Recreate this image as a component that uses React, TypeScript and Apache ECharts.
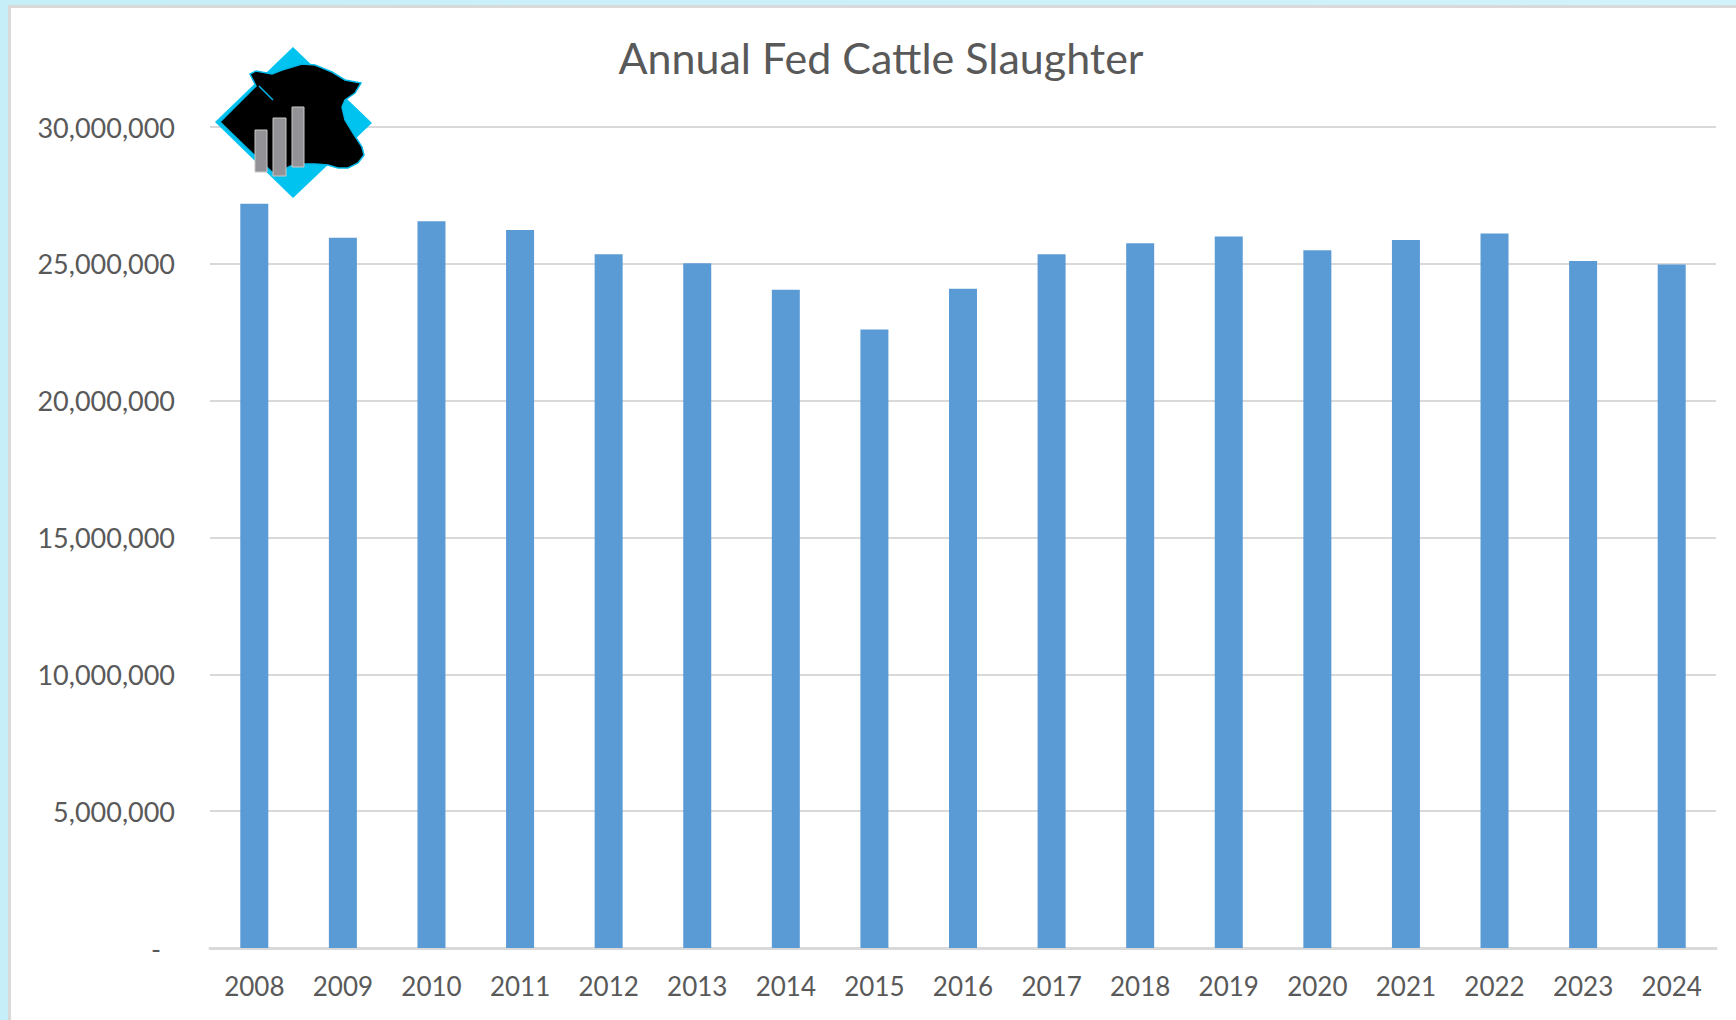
import React, { useEffect, useRef } from "react";
import * as echarts from "echarts";

const years = ["2008","2009","2010","2011","2012","2013","2014","2015","2016","2017","2018","2019","2020","2021","2022","2023","2024"];
const slaughter = [27200000,25950000,26560000,26240000,25350000,25020000,24050000,22600000,24090000,25350000,25750000,26000000,25500000,25870000,26110000,25100000,24980000];
const yMin = 0;
const yMax = 30000000;
const yStep = 5000000;

const FONT = "Lato, 'Open Sans', sans-serif";
const TXT = "#595959";

export default function App() {
  const ref = useRef<HTMLDivElement>(null);
  useEffect(() => {
    document.body.style.margin = "0";
    const chart = echarts.init(ref.current!, null, { renderer: "svg" });
    const cow = [
      [220,122],[256,86],[250,74],[256,71],[272,74],[282,70],[302,64],[315,65],[332,72],[345,80],[361,83],
      [355,93],[345,100],[342,107],[345,120],[353,133],[362,147],[364,155],[358,163],[348,168],[338,168],
      [328,165],[315,164],[295,164],[287,168],[277,177]
    ];
    const barStyle = { fill: "#939397", stroke: "#c8c8c8", lineWidth: 1 };
    chart.setOption({
      animation: false,
      backgroundColor: "transparent",
      title: {
        text: "Annual Fed Cattle Slaughter",
        left: 876,
        top: 31,
        textAlign: "center",
        textStyle: { fontFamily: FONT, fontSize: 43, fontWeight: "normal", color: TXT },
      },
      grid: { left: 210, right: 20, top: 127, bottom: 72, containLabel: false },
      xAxis: {
        type: "category",
        data: years,
        axisTick: { show: false },
        axisLine: { lineStyle: { color: "#d9d9d9", width: 3 } },
        axisLabel: { fontFamily: FONT, fontSize: 26, color: TXT, margin: 25 },
      },
      yAxis: {
        type: "value",
        min: yMin,
        max: yMax,
        interval: yStep,
        axisLine: { show: false },
        axisTick: { show: false },
        splitLine: { lineStyle: { color: "#d9d9d9", width: 2 } },
        axisLabel: {
          fontFamily: FONT,
          fontSize: 27,
          color: TXT,
          margin: 35,
          formatter: (v: number) => (v === 0 ? "{z|-}" : v.toLocaleString("en-US")),
          rich: { z: { fontFamily: FONT, fontSize: 27, color: TXT, padding: [0, 14, 0, 0] } },
        },
      },
      series: [
        {
          type: "bar",
          data: slaughter,
          barWidth: 28,
          itemStyle: { color: "#5b9bd5" },
        },
      ],
      graphic: [
        { type: "polygon", z: 100, shape: { points: [[293,47],[372,123],[293,198],[215,122]] }, style: { fill: "#00c3f0" } },
        { type: "polygon", z: 101, shape: { points: cow }, style: { fill: "#000000", stroke: "#00b8e8", lineWidth: 1.5 } },
        { type: "line", z: 102, shape: { x1: 259, y1: 86, x2: 273, y2: 100 }, style: { stroke: "#00b8e8", lineWidth: 1.5 } },
        { type: "rect", z: 103, shape: { x: 255, y: 130, width: 12, height: 42 }, style: barStyle },
        { type: "rect", z: 103, shape: { x: 273, y: 118, width: 13, height: 58 }, style: barStyle },
        { type: "rect", z: 103, shape: { x: 292, y: 107, width: 12, height: 60 }, style: barStyle },
      ],
    });
    return () => chart.dispose();
  }, []);
  return (
    <div style={{ position: "relative", width: 1736, height: 1020, overflow: "hidden", background: "linear-gradient(90deg, #c6eef8, #d2f3fa)" }}>
      <div style={{ position: "absolute", left: 8, top: 5, width: 1736, height: 1020, background: "#fff", borderLeft: "3px solid #d9d9d9", borderTop: "3px solid #d9d9d9", boxSizing: "border-box" }} />
      <div ref={ref} style={{ position: "absolute", left: 0, top: 0, width: 1736, height: 1020 }} />
    </div>
  );
}
